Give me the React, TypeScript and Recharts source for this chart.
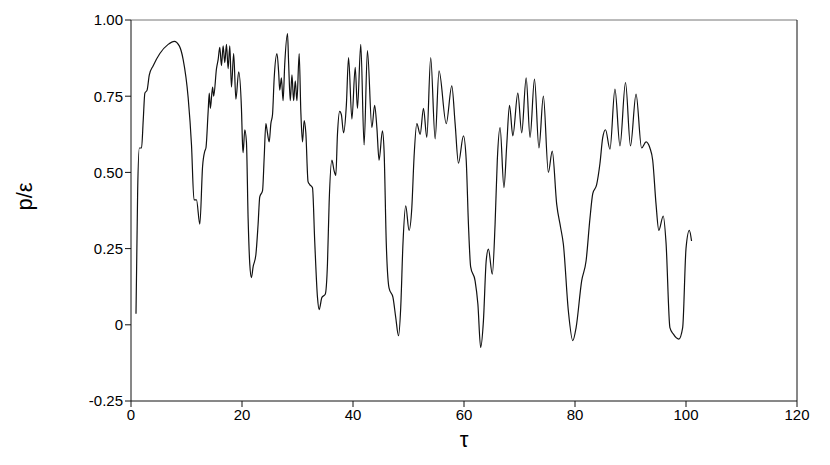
import { LineChart, Line, XAxis, YAxis, ReferenceLine } from "recharts";

// tau values
const tau = [
  0.9, 1.2, 1.5, 1.9, 2.2, 2.5, 2.9, 3.3, 4.0, 5.2, 6.7, 7.8, 8.7, 9.4, 10.3, 10.9, 11.35, 11.8, 12.4,
  12.9, 13.3, 13.5, 13.9, 14.1, 14.3, 14.7, 14.9, 15.4, 15.7, 16.0, 16.3, 16.6, 16.9, 17.2, 17.5, 17.8,
  18.1, 18.5, 18.9, 19.4, 19.9, 20.1, 20.2, 20.5, 20.8, 21.1, 21.4, 21.7, 22.0, 22.5, 22.9, 23.2, 23.7,
  24.0, 24.3, 24.5, 24.9, 25.2, 25.5, 25.8, 26.3, 26.6, 26.8, 27.1, 27.4, 27.7, 28.2, 28.4, 28.7, 29.0,
  29.3, 29.6, 29.9, 30.3, 30.6, 30.9, 31.2, 31.5, 31.9, 32.2, 32.7, 33.1, 33.6, 33.9, 34.4, 35.0, 35.4,
  35.7, 36.2, 36.6, 36.9, 37.2, 37.6, 37.9, 38.3, 38.8, 39.2, 39.8, 40.4, 40.8, 41.4, 42.0, 42.6, 43.4,
  43.9, 44.3, 44.7, 45.3, 45.6, 46.0, 46.5, 47.2, 47.7, 48.2, 48.6, 49.0, 49.5, 50.1, 50.6, 51.0, 51.5,
  52.1, 52.7, 53.3, 54.0, 54.8, 55.5, 56.8, 57.8, 58.4, 59.0, 59.9, 60.4, 60.8, 61.2, 62.0, 62.5, 63.0,
  63.5, 64.0, 64.4, 65.1, 65.6, 66.0, 66.5, 67.2, 67.7, 68.2, 68.8, 69.7, 70.4, 71.2, 71.9, 72.7, 73.5,
  74.3, 75.2, 75.9, 76.7, 77.4, 77.9, 78.8, 79.6, 80.2, 81.2, 82.0, 82.7, 83.2, 83.9, 84.5, 85.0, 85.5,
  86.3, 87.2, 88.1, 89.1, 90.0, 91.0, 92.0, 92.8, 93.5, 94.0, 94.6, 95.1, 95.9, 96.4, 97.1, 97.7, 98.7,
  99.4, 100.0, 100.6, 101.0,
];

// p/epsilon at each tau
const pEps = [
  0.036, 0.44, 0.58, 0.58, 0.67, 0.76, 0.77, 0.82, 0.85, 0.89, 0.92, 0.93, 0.915, 0.87, 0.745, 0.59, 0.41, 0.41, 0.33,
  0.52, 0.57, 0.58, 0.7, 0.76, 0.71, 0.78, 0.75, 0.84, 0.87, 0.91, 0.85, 0.915, 0.86, 0.92, 0.84, 0.915,
  0.78, 0.89, 0.74, 0.83, 0.71, 0.59, 0.565, 0.64, 0.6, 0.35, 0.2, 0.155, 0.19, 0.23, 0.33, 0.42, 0.44,
  0.55, 0.66, 0.64, 0.6, 0.66, 0.69, 0.81, 0.89, 0.83, 0.77, 0.81, 0.735, 0.855, 0.955, 0.86, 0.735, 0.82,
  0.735, 0.8, 0.735, 0.89, 0.7, 0.6, 0.67, 0.63, 0.47, 0.46, 0.45, 0.275, 0.09, 0.05, 0.09, 0.1, 0.2,
  0.4, 0.54, 0.505, 0.49, 0.625, 0.7, 0.69, 0.63, 0.72, 0.877, 0.675, 0.845, 0.71, 0.92, 0.59, 0.9, 0.647,
  0.72, 0.647, 0.54, 0.636, 0.57, 0.265, 0.12, 0.09, 0.024, -0.036, 0.057, 0.265, 0.39, 0.31, 0.385, 0.55, 0.66,
  0.625, 0.71, 0.615, 0.877, 0.61, 0.833, 0.66, 0.784, 0.66, 0.53, 0.62, 0.54, 0.33, 0.19, 0.144, 0.068, -0.074,
  0.013, 0.21, 0.248, 0.166, 0.33, 0.54, 0.647, 0.45, 0.59, 0.72, 0.62, 0.76, 0.63, 0.81, 0.615, 0.806, 0.58,
  0.75, 0.5, 0.57, 0.396, 0.32, 0.265, 0.046, -0.052, -0.009, 0.144, 0.21, 0.35, 0.43, 0.46, 0.53, 0.615, 0.64,
  0.576, 0.773, 0.587, 0.795, 0.587, 0.757, 0.58, 0.6, 0.58, 0.54, 0.396, 0.31, 0.357, 0.27, -0.009, -0.03, -0.047,
  -0.009, 0.25, 0.31, 0.275,
];

const xTicks = [0, 20, 40, 60, 80, 100, 120];
const yTicks = [-0.25, 0, 0.25, 0.5, 0.75, 1.0];

const data = tau.map((t, i) => ({ tau: t, p: pEps[i] }));

const font = "Liberation Sans, Arial, sans-serif";
const tickStyle = { fill: "#000", fontSize: 15, fontFamily: font };

export default function App() {
  return (
    <div style={{ position: "absolute", left: 0, top: 0, background: "#fff" }}>
      <LineChart width={830} height={465} data={data} margin={{ top: 20, right: 33, bottom: 0, left: 0 }}>
        <XAxis
          dataKey="tau"
          type="number"
          domain={[0, 120]}
          ticks={xTicks}
          stroke="#111"
          tick={tickStyle}
          tickSize={6}
          height={64}
          label={{ value: "τ", position: "insideBottom", offset: 18, fill: "#000", fontSize: 22, fontFamily: font }}
        />
        <YAxis
          type="number"
          domain={[-0.25, 1]}
          ticks={yTicks}
          stroke="#111"
          tick={tickStyle}
          tickSize={6}
          width={131}
          tickFormatter={(v: number) => (v === 0 ? "0" : v.toFixed(2))}
          label={{ value: "p/ε", angle: -90, position: "insideLeft", offset: 24, fill: "#000", fontSize: 22, fontFamily: font }}
        />
        <ReferenceLine y={1} stroke="#777" />
        <ReferenceLine x={120} stroke="#111" />
        <Line type="monotone" dataKey="p" stroke="#111" strokeWidth={1.2} dot={false} isAnimationActive={false} />
      </LineChart>
    </div>
  );
}
